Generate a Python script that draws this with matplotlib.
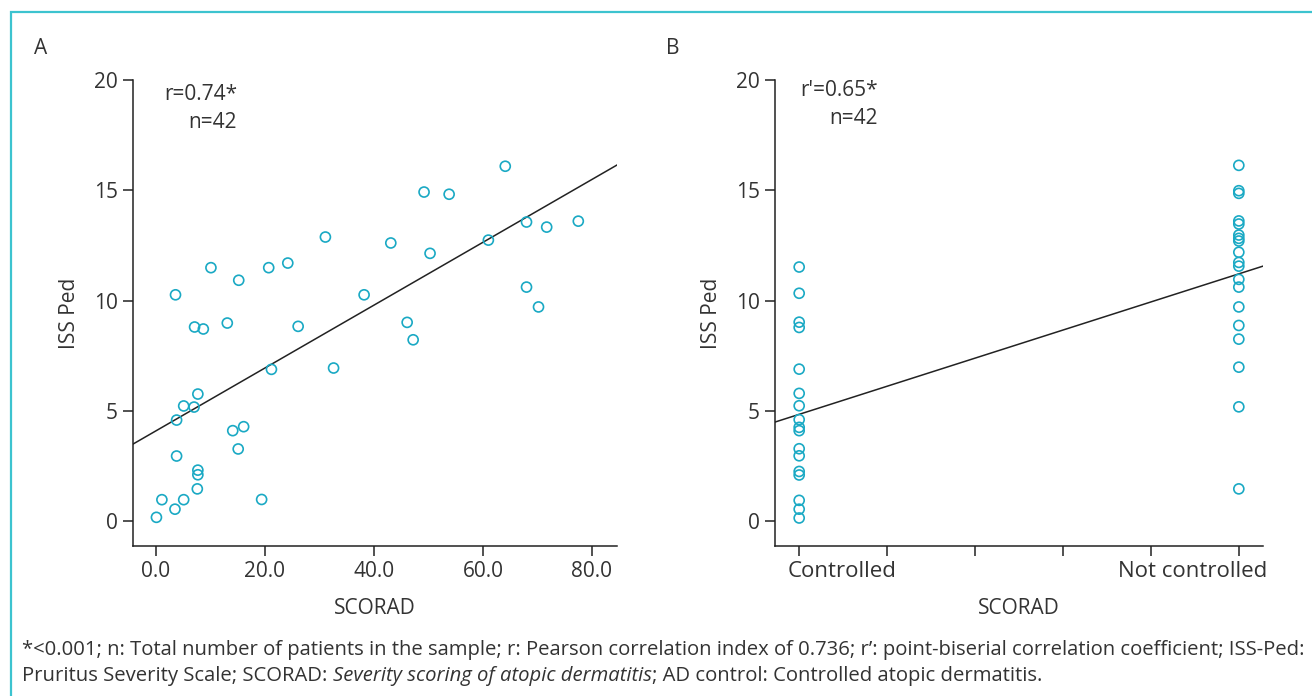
import matplotlib
matplotlib.use("Agg")
import matplotlib.pyplot as plt
import matplotlib.transforms as mtransforms
import numpy as np
from matplotlib.patches import Rectangle

plt.rcParams["font.family"] = ["Open Sans", "DejaVu Sans"]

# Panel A: SCORAD vs ISS Ped
scorad = [64.1, 49.2, 53.8, 68.0, 71.7, 77.5, 61.0, 31.1, 43.1, 50.3,
          10.1, 15.2, 20.7, 24.2, 3.6, 38.2, 68.0, 70.2, 7.1, 8.7,
          13.1, 26.1, 46.1, 47.2, 21.2, 32.6, 7.7, 5.1, 7.0, 3.8,
          14.1, 16.1, 15.1, 3.8, 7.7, 7.7, 7.6, 1.1, 5.1, 19.4,
          3.5, 0.1]
iss_a = [16.09, 14.92, 14.82, 13.56, 13.33, 13.60, 12.74, 12.88, 12.61, 12.14,
         11.49, 10.92, 11.49, 11.70, 10.26, 10.26, 10.61, 9.71, 8.80, 8.71,
         8.98, 8.83, 9.01, 8.22, 6.88, 6.94, 5.76, 5.22, 5.17, 4.58,
         4.10, 4.28, 3.27, 2.95, 2.31, 2.10, 1.46, 0.97, 0.97, 0.98,
         0.54, 0.17]
fit_a = (0.1425, 4.09)  # slope, intercept

# Panel B: AD control vs ISS Ped
controlled = [11.52, 10.33, 9.02, 8.78, 6.89, 5.79, 5.23, 4.60, 4.25, 4.10,
              3.28, 2.96, 2.25, 2.09, 0.94, 0.54, 0.14]
not_controlled = [16.13, 14.98, 14.86, 13.61, 13.47, 12.97, 12.82, 12.70, 12.19, 11.73,
                  11.56, 10.96, 10.61, 9.71, 8.87, 8.25, 6.98, 5.18, 1.46]
fit_b = (6.37, 4.84)
group_labels = ["Controlled", "Not controlled"]

TEAL = "#1aa9c4"
TXT = "#333333"
FS = 15

footnote_1 = ("*<0.001; n: Total number of patients in the sample; r: Pearson correlation index of 0.736; "
              "r\u2019: point-biserial correlation coefficient; ISS-Ped:")
footnote_2a = "Pruritus Severity Scale; SCORAD: "
footnote_2b = "Severity scoring of atopic dermatitis"
footnote_2c = "; AD control: Controlled atopic dermatitis."

fig = plt.figure(figsize=(13.12, 6.96), dpi=100)
W, H = 1312, 696


def px_axes(l, t, r, b):
    return fig.add_axes([l / W, 1 - b / H, (r - l) / W, (b - t) / H])


def style(ax):
    for s in ("top", "right"):
        ax.spines[s].set_visible(False)
    for s in ("left", "bottom"):
        ax.spines[s].set_color("#222222")
        ax.spines[s].set_linewidth(1.1)
    ax.tick_params(direction="out", length=7, width=1.1, colors="#222222",
                   labelsize=FS, labelcolor=TXT, pad=4)
    ax.set_ylim(-1.13, 20)
    ax.set_yticks([0, 5, 10, 15, 20])
    ax.set_ylabel("ISS Ped", fontsize=FS, color=TXT, labelpad=10)
    ax.set_xlabel("SCORAD", fontsize=FS, color=TXT, labelpad=11)


# ---- A
axa = px_axes(133, 80, 617, 546)
style(axa)
axa.set_xlim(-4.2, 84.6)
axa.set_xticks([0, 20, 40, 60, 80])
axa.set_xticklabels(["0.0", "20.0", "40.0", "60.0", "80.0"])
axa.scatter(scorad, iss_a, s=52, facecolors="none", edgecolors=TEAL, linewidths=1.2, zorder=3)
xs = np.array(axa.get_xlim())
axa.plot(xs, fit_a[0] * xs + fit_a[1], color="#222222", lw=1.1, zorder=2)
axa.text(237 / W, 1 - 95 / H, "r=0.74*", transform=fig.transFigure, ha="right", va="center",
         fontsize=FS, color=TXT)
axa.text(237 / W, 1 - 122 / H, "n=42", transform=fig.transFigure, ha="right", va="center",
         fontsize=FS, color=TXT)

# ---- B
axb = px_axes(775, 80, 1263, 546)
style(axb)
axb.set_xlim(-0.055, 1.055)
axb.set_xticks(np.linspace(0, 1, 6))
axb.set_xticklabels([group_labels[0], "", "", "", "", group_labels[1]])
labs = axb.get_xticklabels()
labs[0].set_ha("left")
labs[0].set_transform(labs[0].get_transform()
                      + mtransforms.ScaledTranslation(-12 / 100, 0, fig.dpi_scale_trans))
labs[-1].set_ha("right")
labs[-1].set_transform(labs[-1].get_transform()
                       + mtransforms.ScaledTranslation(28 / 100, 0, fig.dpi_scale_trans))
for lb in (labs[0], labs[-1]):
    lb.set_fontsize(16)
axb.scatter(np.zeros(len(controlled)), controlled, s=52, facecolors="none",
            edgecolors=TEAL, linewidths=1.2, zorder=3)
axb.scatter(np.ones(len(not_controlled)), not_controlled, s=52, facecolors="none",
            edgecolors=TEAL, linewidths=1.2, zorder=3)
xs = np.array(axb.get_xlim())
axb.plot(xs, fit_b[0] * xs + fit_b[1], color="#222222", lw=1.1, zorder=2)
axb.text(878 / W, 1 - 90 / H, "r'=0.65*", transform=fig.transFigure, ha="right", va="center",
         fontsize=FS, color=TXT)
axb.text(878 / W, 1 - 118 / H, "n=42", transform=fig.transFigure, ha="right", va="center",
         fontsize=FS, color=TXT)

# panel letters
fig.text(34 / W, 1 - 48 / H, "A", fontsize=FS, color=TXT, va="center")
fig.text(666 / W, 1 - 48 / H, "B", fontsize=FS, color=TXT, va="center")

# border
fig.patches.append(Rectangle((11 / W, -0.05), 1.1, 1 - 12 / H + 0.05, transform=fig.transFigure,
                             fill=False, edgecolor="#3cc3cf", linewidth=1.6))

# footnote, sized so the first line spans the box like the original
fig.canvas.draw()
r = fig.canvas.get_renderer()
probe = fig.text(0, 0, footnote_1, fontsize=10)
fn_fs = 10 * 1280 / probe.get_window_extent(r).width
probe.remove()

fig.text(22 / W, 1 - 650 / H, footnote_1, fontsize=fn_fs, color=TXT, va="center")
t1 = fig.text(22 / W, 1 - 676 / H, footnote_2a, fontsize=fn_fs, color=TXT, va="center")
bb = t1.get_window_extent(r)
t2 = fig.text(bb.x1 / W, 1 - 676 / H, footnote_2b, fontsize=fn_fs, color=TXT, va="center",
              style="italic")
bb = t2.get_window_extent(r)
fig.text(bb.x1 / W, 1 - 676 / H, footnote_2c, fontsize=fn_fs, color=TXT, va="center")

fig.savefig("out.png", dpi=100)
